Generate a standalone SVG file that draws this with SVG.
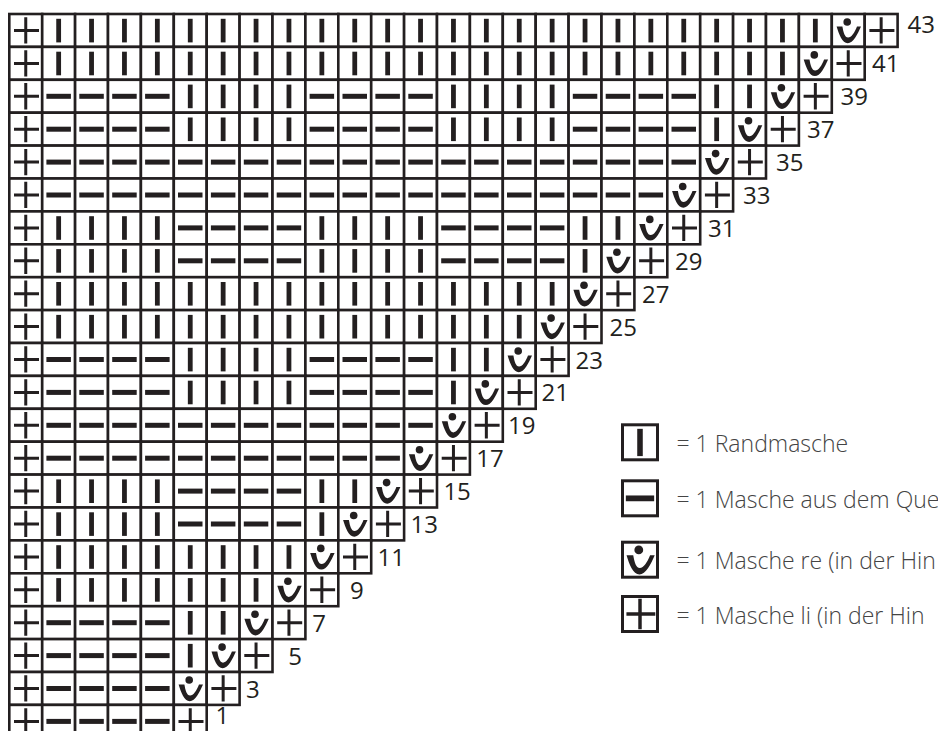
<svg xmlns="http://www.w3.org/2000/svg" xmlns:xlink="http://www.w3.org/1999/xlink" width="938" height="731" viewBox="0 0 938 731">
<style>
.c{fill:#fff;stroke:#231f20;stroke-width:2.6}
.k{fill:#231f20}
.bx{fill:#fff;stroke:#231f20;stroke-width:3}
.lbl{font-family:"Open Sans","DejaVu Sans",sans-serif;font-size:24px;fill:#231f20}
.leg{font-family:"Open Sans","DejaVu Sans",sans-serif;font-size:23px;font-weight:300;fill:#444}
</style>
<defs>
<g id="gp"><path d="M4.7 16.5H29.7M16.45 3.3V29.6" fill="none" stroke="#231f20" stroke-width="3"/></g>
<rect id="gr" class="k" x="14.05" y="4.8" width="4.8" height="23.6"/>
<rect id="gm" class="k" x="4.2" y="14" width="24.5" height="5"/>
<g id="gv" class="k"><circle cx="15.4" cy="8" r="3.8"/><path d="M4.8,12.5 C7,20 10.5,29.2 16,29.2 C21.3,29.2 26,20 29.2,12.5 L25.2,12.5 C22.8,18.5 19.6,23.6 16.3,23.6 C13,23.6 11.6,18.2 10.6,12.5 Z"/></g>
<g id="P"><rect class="c" width="32.9" height="32.9"/><use href="#gp"/></g>
<g id="R"><rect class="c" width="32.9" height="32.9"/><use href="#gr"/></g>
<g id="M"><rect class="c" width="32.9" height="32.9"/><use href="#gm"/></g>
<g id="V"><rect class="c" width="32.9" height="32.9"/><use href="#gv"/></g>
<g id="R4"><use href="#R"/><use href="#R" x="32.9"/><use href="#R" x="65.8"/><use href="#R" x="98.7"/></g>
<g id="M4"><use href="#M"/><use href="#M" x="32.9"/><use href="#M" x="65.8"/><use href="#M" x="98.7"/></g>
</defs>
<rect width="938" height="731" fill="#fff"/>
<g id="chart">
<g id="row43" transform="translate(0,14)"><use href="#P" x="9.3"/><use href="#R4" x="42.2"/><use href="#R4" x="173.8"/><use href="#R4" x="305.4"/><use href="#R4" x="437"/><use href="#R4" x="568.6"/><use href="#R4" x="700.2"/><use href="#V" x="831.8"/><use href="#P" x="864.7"/></g>
<g id="row41" transform="translate(0,46.9)"><use href="#P" x="9.3"/><use href="#R4" x="42.2"/><use href="#R4" x="173.8"/><use href="#R4" x="305.4"/><use href="#R4" x="437"/><use href="#R4" x="568.6"/><use href="#R" x="700.2"/><use href="#R" x="733.1"/><use href="#R" x="766"/><use href="#V" x="798.9"/><use href="#P" x="831.8"/></g>
<g id="row39" transform="translate(0,79.8)"><use href="#P" x="9.3"/><use href="#M4" x="42.2"/><use href="#R4" x="173.8"/><use href="#M4" x="305.4"/><use href="#R4" x="437"/><use href="#M4" x="568.6"/><use href="#R" x="700.2"/><use href="#R" x="733.1"/><use href="#V" x="766"/><use href="#P" x="798.9"/></g>
<g id="row37" transform="translate(0,112.7)"><use href="#P" x="9.3"/><use href="#M4" x="42.2"/><use href="#R4" x="173.8"/><use href="#M4" x="305.4"/><use href="#R4" x="437"/><use href="#M4" x="568.6"/><use href="#R" x="700.2"/><use href="#V" x="733.1"/><use href="#P" x="766"/></g>
<g id="row35" transform="translate(0,145.6)"><use href="#P" x="9.3"/><use href="#M4" x="42.2"/><use href="#M4" x="173.8"/><use href="#M4" x="305.4"/><use href="#M4" x="437"/><use href="#M4" x="568.6"/><use href="#V" x="700.2"/><use href="#P" x="733.1"/></g>
<g id="row33" transform="translate(0,178.5)"><use href="#P" x="9.3"/><use href="#M4" x="42.2"/><use href="#M4" x="173.8"/><use href="#M4" x="305.4"/><use href="#M4" x="437"/><use href="#M" x="568.6"/><use href="#M" x="601.5"/><use href="#M" x="634.4"/><use href="#V" x="667.3"/><use href="#P" x="700.2"/></g>
<g id="row31" transform="translate(0,211.4)"><use href="#P" x="9.3"/><use href="#R4" x="42.2"/><use href="#M4" x="173.8"/><use href="#R4" x="305.4"/><use href="#M4" x="437"/><use href="#R" x="568.6"/><use href="#R" x="601.5"/><use href="#V" x="634.4"/><use href="#P" x="667.3"/></g>
<g id="row29" transform="translate(0,244.3)"><use href="#P" x="9.3"/><use href="#R4" x="42.2"/><use href="#M4" x="173.8"/><use href="#R4" x="305.4"/><use href="#M4" x="437"/><use href="#R" x="568.6"/><use href="#V" x="601.5"/><use href="#P" x="634.4"/></g>
<g id="row27" transform="translate(0,277.2)"><use href="#P" x="9.3"/><use href="#R4" x="42.2"/><use href="#R4" x="173.8"/><use href="#R4" x="305.4"/><use href="#R4" x="437"/><use href="#V" x="568.6"/><use href="#P" x="601.5"/></g>
<g id="row25" transform="translate(0,310.1)"><use href="#P" x="9.3"/><use href="#R4" x="42.2"/><use href="#R4" x="173.8"/><use href="#R4" x="305.4"/><use href="#R" x="437"/><use href="#R" x="469.9"/><use href="#R" x="502.8"/><use href="#V" x="535.7"/><use href="#P" x="568.6"/></g>
<g id="row23" transform="translate(0,343)"><use href="#P" x="9.3"/><use href="#M4" x="42.2"/><use href="#R4" x="173.8"/><use href="#M4" x="305.4"/><use href="#R" x="437"/><use href="#R" x="469.9"/><use href="#V" x="502.8"/><use href="#P" x="535.7"/></g>
<g id="row21" transform="translate(0,375.9)"><use href="#P" x="9.3"/><use href="#M4" x="42.2"/><use href="#R4" x="173.8"/><use href="#M4" x="305.4"/><use href="#R" x="437"/><use href="#V" x="469.9"/><use href="#P" x="502.8"/></g>
<g id="row19" transform="translate(0,408.8)"><use href="#P" x="9.3"/><use href="#M4" x="42.2"/><use href="#M4" x="173.8"/><use href="#M4" x="305.4"/><use href="#V" x="437"/><use href="#P" x="469.9"/></g>
<g id="row17" transform="translate(0,441.7)"><use href="#P" x="9.3"/><use href="#M4" x="42.2"/><use href="#M4" x="173.8"/><use href="#M" x="305.4"/><use href="#M" x="338.3"/><use href="#M" x="371.2"/><use href="#V" x="404.1"/><use href="#P" x="437"/></g>
<g id="row15" transform="translate(0,474.6)"><use href="#P" x="9.3"/><use href="#R4" x="42.2"/><use href="#M4" x="173.8"/><use href="#R" x="305.4"/><use href="#R" x="338.3"/><use href="#V" x="371.2"/><use href="#P" x="404.1"/></g>
<g id="row13" transform="translate(0,507.5)"><use href="#P" x="9.3"/><use href="#R4" x="42.2"/><use href="#M4" x="173.8"/><use href="#R" x="305.4"/><use href="#V" x="338.3"/><use href="#P" x="371.2"/></g>
<g id="row11" transform="translate(0,540.4)"><use href="#P" x="9.3"/><use href="#R4" x="42.2"/><use href="#R4" x="173.8"/><use href="#V" x="305.4"/><use href="#P" x="338.3"/></g>
<g id="row9" transform="translate(0,573.3)"><use href="#P" x="9.3"/><use href="#R4" x="42.2"/><use href="#R" x="173.8"/><use href="#R" x="206.7"/><use href="#R" x="239.6"/><use href="#V" x="272.5"/><use href="#P" x="305.4"/></g>
<g id="row7" transform="translate(0,606.2)"><use href="#P" x="9.3"/><use href="#M4" x="42.2"/><use href="#R" x="173.8"/><use href="#R" x="206.7"/><use href="#V" x="239.6"/><use href="#P" x="272.5"/></g>
<g id="row5" transform="translate(0,639.1)"><use href="#P" x="9.3"/><use href="#M4" x="42.2"/><use href="#R" x="173.8"/><use href="#V" x="206.7"/><use href="#P" x="239.6"/></g>
<g id="row3" transform="translate(0,672)"><use href="#P" x="9.3"/><use href="#M4" x="42.2"/><use href="#V" x="173.8"/><use href="#P" x="206.7"/></g>
<g id="row1" transform="translate(0,704.9)"><use href="#P" x="9.3"/><use href="#M4" x="42.2"/><use href="#P" x="173.8"/></g>
</g>
<g id="row-numbers" class="lbl">
<text x="907.5" y="33">43</text>
<text x="872" y="72.4">41</text>
<text x="840.5" y="105.3">39</text>
<text x="807" y="138.2">37</text>
<text x="776" y="171.1">35</text>
<text x="743" y="204">33</text>
<text x="708" y="236.9">31</text>
<text x="675" y="269.8">29</text>
<text x="642" y="302.7">27</text>
<text x="609.5" y="335.6">25</text>
<text x="575.5" y="368.5">23</text>
<text x="541.5" y="401.4">21</text>
<text x="508" y="434.3">19</text>
<text x="476.3" y="467.2">17</text>
<text x="443.4" y="500.1">15</text>
<text x="410.5" y="533">13</text>
<text x="377.6" y="565.9">11</text>
<text x="350" y="598.8">9</text>
<text x="312.3" y="631.7">7</text>
<text x="288.3" y="664.6">5</text>
<text x="246" y="697.5">3</text>
<text x="215.4" y="724">1</text>
</g>
<g id="legend-rand"><rect class="bx" x="622.5" y="424.8" width="35" height="35"/><use href="#gr" transform="translate(621,423.3) scale(1.155)"/><text class="leg" x="676.5" y="451.8">= 1 Randmasche</text></g>
<g id="legend-quer"><rect class="bx" x="622.5" y="480.8" width="35" height="35"/><use href="#gm" transform="translate(621,479.3) scale(1.155)"/><text class="leg" x="676.5" y="507.8">= 1 Masche aus dem Que</text></g>
<g id="legend-re"><rect class="bx" x="622.5" y="542.2" width="35" height="35"/><use href="#gv" transform="translate(621,540.7) scale(1.155)"/><text class="leg" x="676.5" y="569.2">= 1 Masche re (in der Hin</text></g>
<g id="legend-li"><rect class="bx" x="622.5" y="596.5" width="35" height="35"/><use href="#gp" transform="translate(621,595) scale(1.155)"/><text class="leg" x="676.5" y="623.5">= 1 Masche li (in der Hin</text></g>
</svg>
